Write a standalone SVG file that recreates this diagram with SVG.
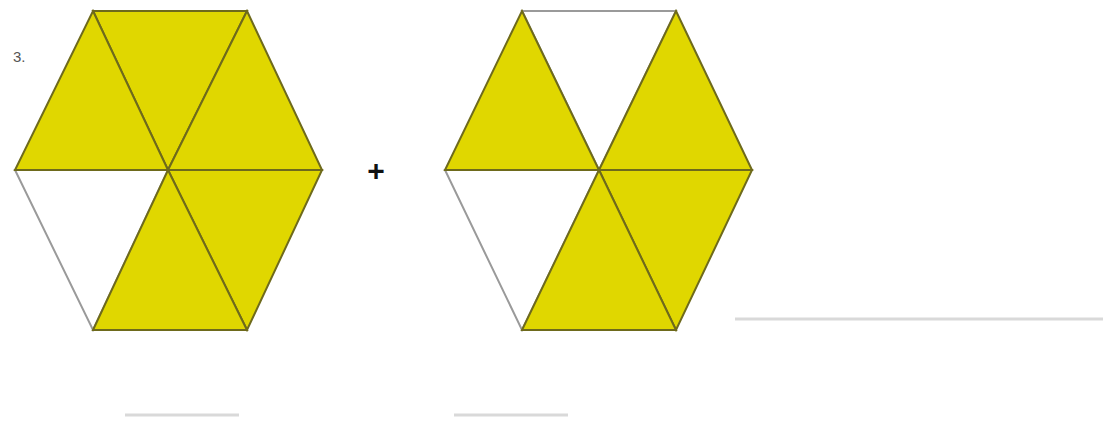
<svg xmlns="http://www.w3.org/2000/svg" width="1103" height="423" viewBox="0 0 1103 423">
<style>
.y{fill:#e0d700;stroke:#6e6a1c;stroke-width:2;stroke-linejoin:miter}
.w{fill:#ffffff;stroke:#9a9a9a;stroke-width:2}
.ln{stroke:#d9d9d9;stroke-width:3}
.t{font-family:"Liberation Sans",Arial,sans-serif}
</style>
<rect width="1103" height="423" fill="#ffffff"/>
<g id="label3"><text class="t" x="13" y="62" font-size="15" fill="#555">3.</text></g>
<g id="hexagon1">
<polygon class="w" points="15,170 168,170 93,330"/>
<polygon class="y" points="93,11 247,11 168,170"/>
<polygon class="y" points="93,11 168,170 15,170"/>
<polygon class="y" points="247,11 322,170 168,170"/>
<polygon class="y" points="168,170 322,170 247,330"/>
<polygon class="y" points="168,170 247,330 93,330"/>
</g>
<g id="plus"><text class="t" x="376" y="181" font-size="30" font-weight="bold" text-anchor="middle" fill="#111">+</text></g>
<g id="hexagon2">
<polygon class="w" points="522,11 676,11 599,170"/>
<polygon class="w" points="445,170 599,170 522,330"/>
<polygon class="y" points="522,11 599,170 445,170"/>
<polygon class="y" points="676,11 752,170 599,170"/>
<polygon class="y" points="599,170 752,170 676,330"/>
<polygon class="y" points="599,170 676,330 522,330"/>
</g>
<g id="connectors">
<line class="ln" x1="735" y1="319" x2="1103" y2="319"/>
<line class="ln" x1="125" y1="415" x2="239" y2="415"/>
<line class="ln" x1="454" y1="415" x2="568" y2="415"/>
</g>
</svg>
